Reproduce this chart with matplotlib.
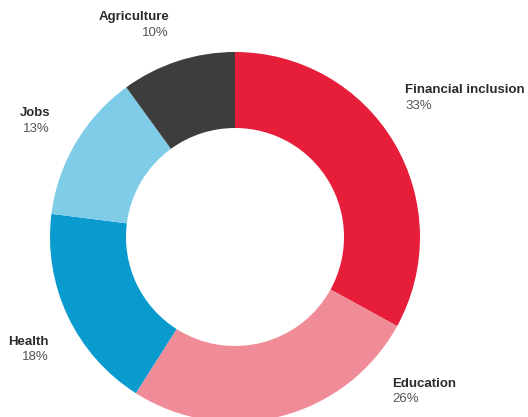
import matplotlib.pyplot as plt

# 各领域占比
sectors = ['Financial inclusion', 'Education', 'Health', 'Jobs', 'Agriculture']
shares = [33, 26, 18, 13, 10]
colors = ['#E61E3A', '#F08C98', '#0A9BCE', '#7ECCE7', '#3D3D3D']

plt.rcParams['font.family'] = ['Liberation Sans', 'DejaVu Sans']

fig = plt.figure(figsize=(5.28, 4.17), dpi=100)
ax = fig.add_axes([0, 0, 1, 1])
ax.set_xlim(0, 528)
ax.set_ylim(0, 417)
ax.set_aspect('equal')
ax.axis('off')

# 环形图: 从正上方开始顺时针
ax.pie(shares, colors=colors, startangle=90, counterclock=False,
       center=(235, 180), radius=185, frame=True,
       wedgeprops=dict(width=76, linewidth=0))
ax.set_xlim(0, 528)
ax.set_ylim(0, 417)
ax.axis('off')

# 标签位置 (x, y, 对齐方式)
label_pos = {
    'Financial inclusion': (405, 327, 'left'),
    'Education': (392, 33, 'left'),
    'Health': (49, 75, 'right'),
    'Jobs': (50, 304, 'right'),
    'Agriculture': (169, 400, 'right'),
}
for name, val in zip(sectors, shares):
    x, y, ha = label_pos[name]
    ax.text(x, y, name, ha=ha, va='center', fontsize=9.5,
            fontweight='bold', color='#2b2b2b')
    ax.text(x, y - 15.5, f'{val}%', ha=ha, va='center', fontsize=9.5,
            color='#555555')

fig.savefig('out.png', dpi=100)
